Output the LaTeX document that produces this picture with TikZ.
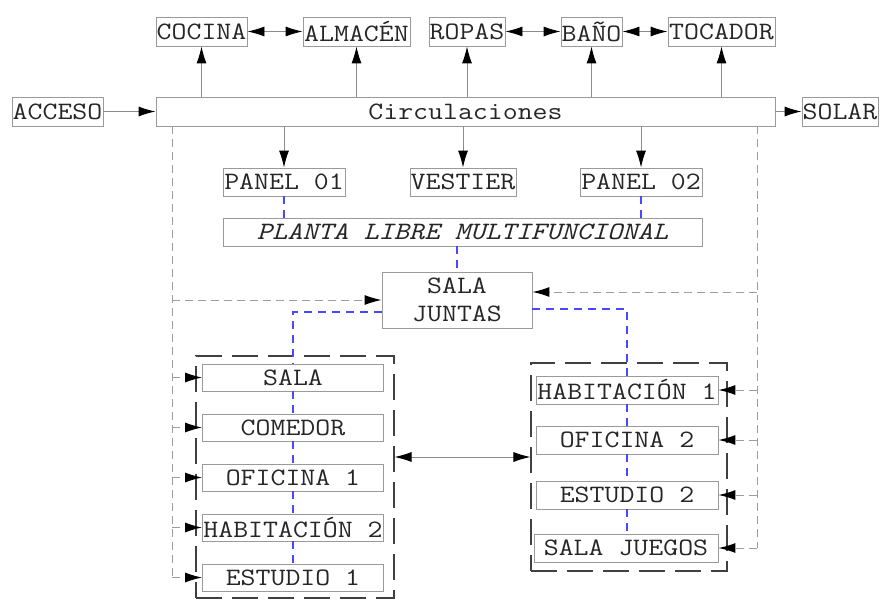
\documentclass[tikz,border=0pt]{standalone}
\usepackage{fontspec}
\newfontfamily\roomfont{Latin Modern Mono}[FakeStretch=1.16]
\usetikzlibrary{positioning,arrows.meta}

\definecolor{boxgray}{HTML}{9A9A9A}
\definecolor{linegray}{HTML}{8C8C8C}
\definecolor{planblue}{HTML}{4848FF}

\begin{document}
\begin{tikzpicture}[x=1pt,y=-1pt,
  room/.style={draw=boxgray,line width=0.9pt,inner sep=0pt,minimum height=29pt,
    text=black!85,font=\roomfont\fontsize{25}{28}\selectfont},
  tipend/.style={-{Latex[length=17pt,width=10pt,black]}},
  tipboth/.style={{Latex[length=17pt,width=10pt,black]}-{Latex[length=17pt,width=10pt,black]}},
  link/.style={draw=linegray,line width=0.9pt},
  gline/.style={draw=linegray!85,line width=1pt,dash pattern=on 8pt off 5pt},
  bline/.style={draw=planblue,line width=1.1pt,dash pattern=on 8pt off 6pt},
  zone/.style={draw=black!75,line width=1.1pt,dash pattern=on 26pt off 10pt,
    inner sep=0pt}]
\useasboundingbox (0,0) rectangle (882,599);

% fila superior
\node[room,minimum width=91pt] (cocina) at (201.5,31.5) {COCINA};
\node[room,minimum width=107pt] (almacen) at (356.5,31.5) {ALMACÉN};
\node[room,minimum width=76pt] (ropas) at (467,31.5) {ROPAS};
\node[room,minimum width=61pt] (bano) at (591.5,31.5) {BAÑO};
\node[room,minimum width=107pt] (tocador) at (721.5,31.5) {TOCADOR};

\node[room,minimum width=91pt] (acceso) at (57.5,111.5) {ACCESO};
\node[room,minimum width=619pt] (circ) at (465.5,111.5) {Circulaciones};
\node[room,minimum width=76pt] (solar) at (840,111.5) {SOLAR};

\node[room,minimum width=122pt,minimum height=28pt] (panel1) at (284,182) {PANEL 01};
\node[room,minimum width=106pt,minimum height=28pt] (vestier) at (463,182) {VESTIER};
\node[room,minimum width=122pt,minimum height=28pt] (panel2) at (641,182) {PANEL 02};

\node[room,minimum width=479pt,minimum height=28pt,font=\roomfont\fontsize{25}{28}\selectfont\itshape]
  (planta) at (462.5,232) {PLANTA LIBRE MULTIFUNCIONAL};
\node[room,minimum width=150pt,minimum height=56pt,align=center] (juntas) at (457,300) {SALA\\JUNTAS};

% zonas
\node[zone,minimum width=198pt,minimum height=242pt] (lzona) at (295,477) {};
\node[zone,minimum width=196pt,minimum height=208pt] (rzona) at (629,467) {};

\node[room,minimum width=181pt,minimum height=27pt] (sala) at (293,377.5) {SALA};
\node[room,minimum width=181pt,minimum height=27pt] (comedor) at (293,427.5) {COMEDOR};
\node[room,minimum width=181pt,minimum height=27pt] (oficina1) at (293,477.5) {OFICINA 1};
\node[room,minimum width=181pt,minimum height=27pt] (hab2) at (293,527.5) {HABITACIÓN 2};
\node[room,minimum width=181pt,minimum height=27pt] (estudio1) at (293,577.5) {ESTUDIO 1};

\node[room,minimum width=182pt,minimum height=28pt] (hab1) at (627,390) {HABITACIÓN 1};
\node[room,minimum width=182pt,minimum height=28pt] (oficina2) at (627,440) {OFICINA 2};
\node[room,minimum width=182pt,minimum height=28pt] (estudio2) at (627,495) {ESTUDIO 2};
\node[room,minimum width=184pt,minimum height=28pt] (juegos) at (626,548) {SALA JUEGOS};

% flechas
\draw[link,tipend] (acceso) -- (circ);
\draw[link,tipend] (circ) -- (solar);
\foreach \n in {cocina,almacen,ropas,bano,tocador}
  \draw[link,tipend] (\n.south |- circ.north) -- (\n.south);
\foreach \n in {panel1,vestier,panel2}
  \draw[link,tipend] (\n.north |- circ.south) -- (\n.north);
\draw[link,tipboth] (cocina) -- (almacen);
\draw[link,tipboth] (ropas) -- (bano);
\draw[link,tipboth] (bano) -- (tocador);
\coordinate (paso) at (0,457);
\draw[link,tipboth] (lzona.east |- paso) -- (rzona.west |- paso);

% circulaciones laterales
\coordinate (lrail) at (172,0);
\coordinate (rrail) at (757,0);
\draw[gline] (circ.south -| lrail) -- (estudio1.west -| lrail);
\draw[gline] (circ.south -| rrail) -- (juegos.east -| rrail);
\draw[gline,tipend] (juntas.west -| lrail) -- (juntas.west);
\draw[gline,tipend] ([yshift=8pt]juntas.east -| rrail) -- ([yshift=8pt]juntas.east);
\foreach \n in {sala,comedor,oficina1,hab2,estudio1}
  \draw[gline,tipend] (\n.west -| lrail) -- (\n.west);
\foreach \n in {hab1,oficina2,estudio2,juegos}
  \draw[gline,tipend] (\n.east -| rrail) -- (\n.east);

% ejes azules
\draw[bline] (panel1.south) -- (panel1.south |- planta.north);
\draw[bline] (panel2.south) -- (panel2.south |- planta.north);
\draw[bline] (planta.south -| juntas.north) -- (juntas.north);
\draw[bline] ([yshift=-12pt]juntas.west) -| (sala.north);
\draw[bline] ([yshift=-9pt]juntas.east) -| (hab1.north);
\foreach \a/\b in {sala/comedor,comedor/oficina1,oficina1/hab2,hab2/estudio1,
  hab1/oficina2,oficina2/estudio2,estudio2/juegos}
  \draw[bline] (\a.south) -- (\a.south |- \b.north);

\end{tikzpicture}
\end{document}
